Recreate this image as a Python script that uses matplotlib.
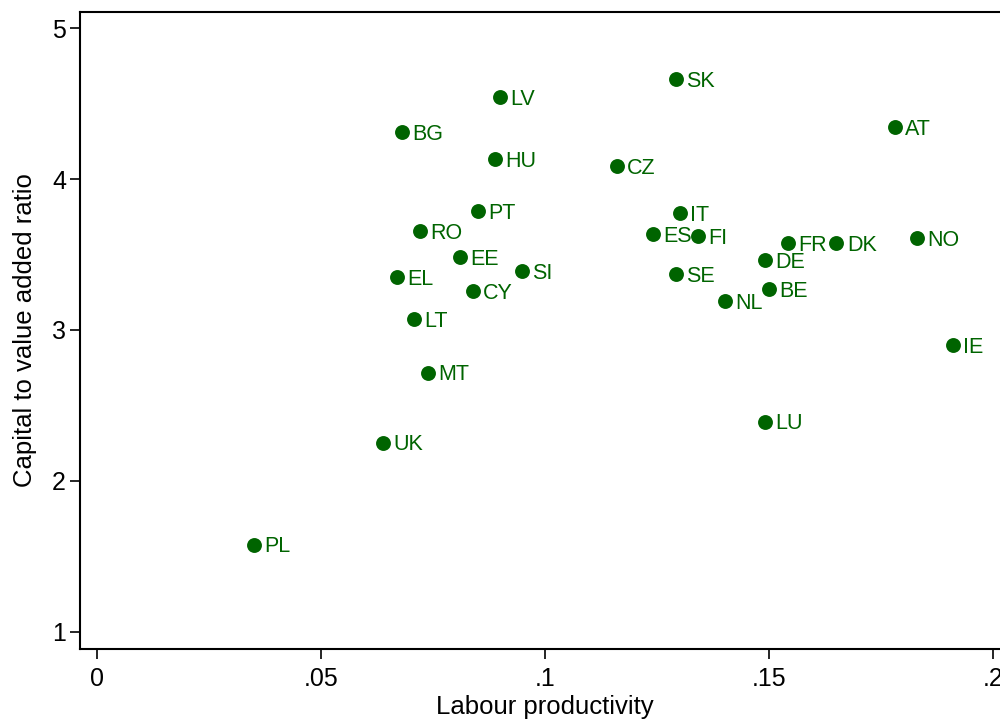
import numpy as np
import matplotlib.pyplot as plt

plt.rcParams['font.family'] = ['Liberation Sans', 'DejaVu Sans']

# country codes and values
countries = ['SK', 'LV', 'BG', 'AT', 'HU', 'CZ', 'PT', 'IT', 'RO', 'ES',
             'FI', 'FR', 'DK', 'NO', 'EE', 'DE', 'EL', 'SI', 'SE', 'CY',
             'BE', 'NL', 'LT', 'IE', 'MT', 'LU', 'UK', 'PL']
productivity = [0.1292, 0.0899, 0.0681, 0.1780, 0.0888, 0.1160, 0.0850, 0.1300,
                0.0721, 0.1240, 0.1341, 0.1541, 0.1650, 0.1829, 0.0810, 0.1490,
                0.0670, 0.0948, 0.1292, 0.0839, 0.1499, 0.1401, 0.0708, 0.1909,
                0.0739, 0.1490, 0.0638, 0.0351]
cap_ratio = [4.664, 4.545, 4.313, 4.346, 4.134, 4.087, 3.789, 3.776,
             3.656, 3.636, 3.623, 3.576, 3.576, 3.609, 3.484, 3.464,
             3.351, 3.391, 3.371, 3.258, 3.272, 3.192, 3.073, 2.901,
             2.716, 2.391, 2.252, 1.576]

xticks = [0, 0.05, 0.1, 0.15, 0.2]
xticklabels = ['0', '.05', '.1', '.15', '.2']
yticks = [1, 2, 3, 4, 5]

green = '#006400'

fig = plt.figure(figsize=(10, 7.2), dpi=100)
ax = fig.add_axes([0.08, 0.0986, 0.93, 0.8847])

ax.scatter(productivity, cap_ratio, s=115, color=green, linewidths=0, zorder=3)
for c, x, y in zip(countries, productivity, cap_ratio):
    # baseline shifted down so caps sit centred on the marker
    ax.annotate(c, (x, y), xytext=(7.5, -5.5), textcoords='offset points',
                va='baseline', ha='left', fontsize=15.5, color=green)

ax.set_xlim(-0.00373, 0.2037)
ax.set_ylim(0.885, 5.108)
ax.set_xticks(xticks)
ax.set_xticklabels(xticklabels)
ax.set_yticks(yticks)
ax.tick_params(labelsize=18, length=7, width=1.2, direction='out')
ax.tick_params(axis='x', pad=6)
ax.tick_params(axis='y', pad=3)
for s in ax.spines.values():
    s.set_linewidth(1.5)

ax.set_xlabel('Labour productivity', fontsize=18.5, labelpad=3)
ax.set_ylabel('Capital to value added ratio', fontsize=18.5, labelpad=11)

fig.savefig('out.png', dpi=100)
